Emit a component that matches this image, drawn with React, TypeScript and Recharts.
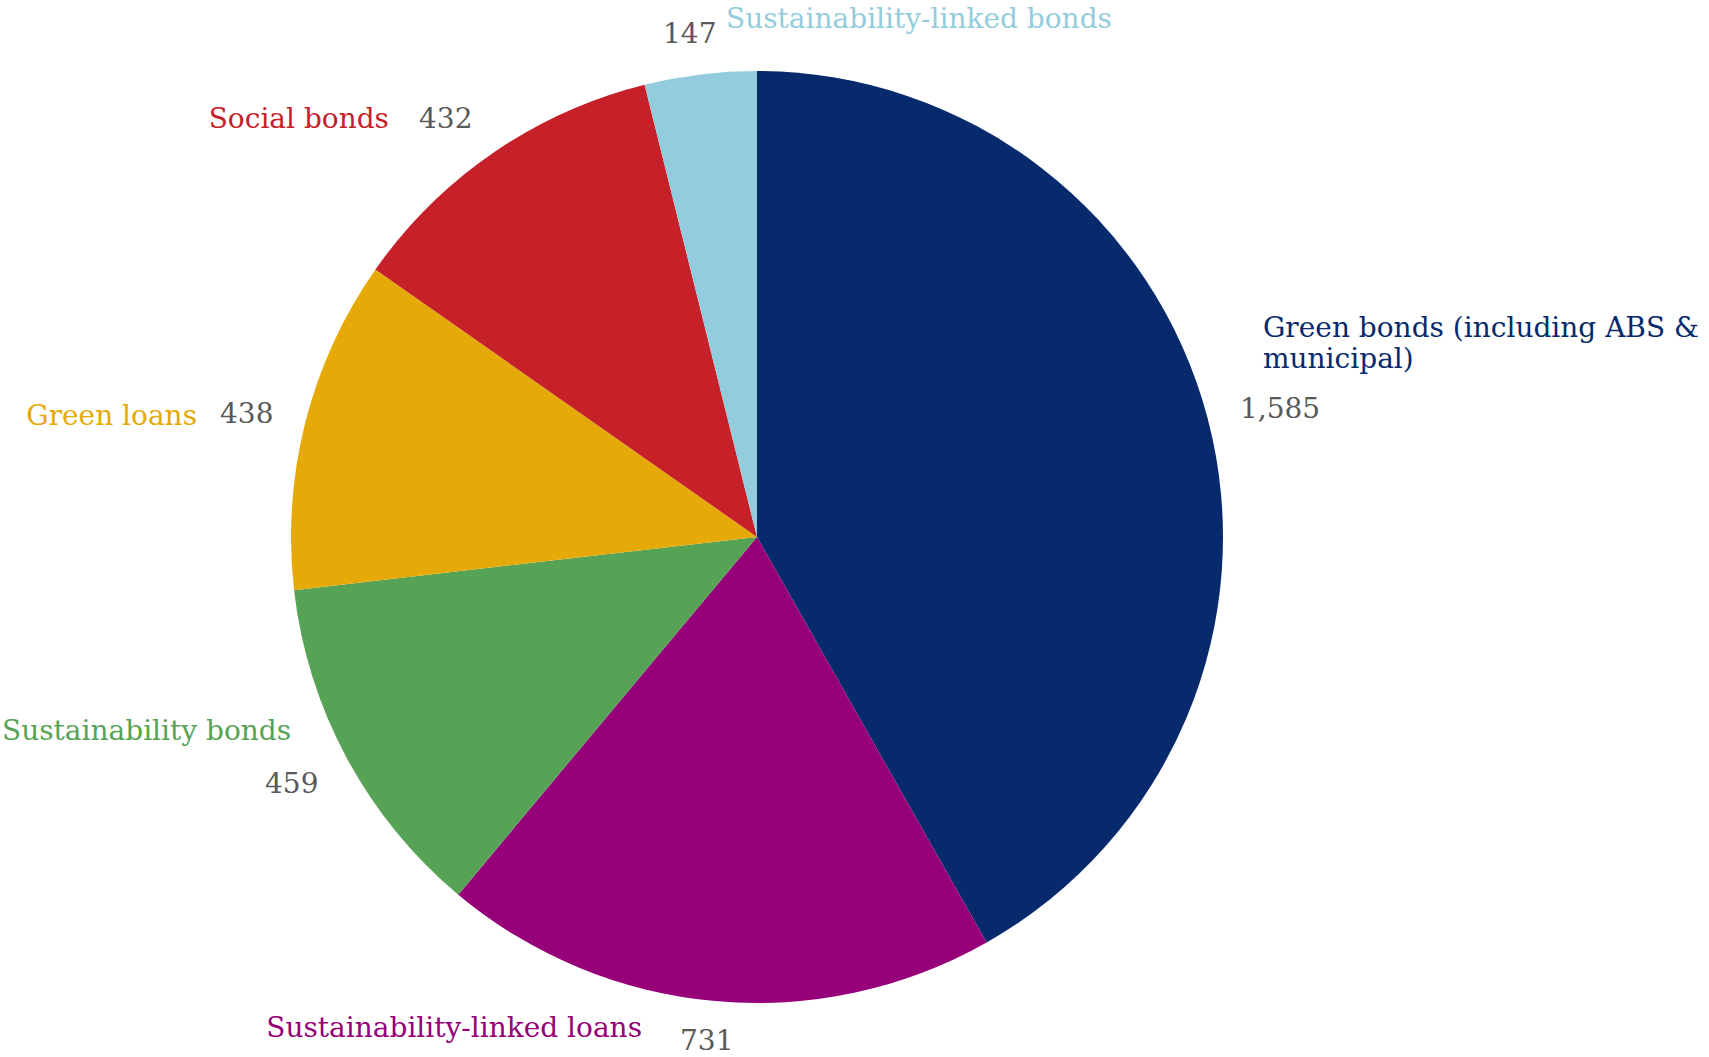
import { PieChart, Pie, Cell } from "recharts"

// Issuance by instrument type
const categories = [
  "Green bonds (including ABS &\nmunicipal)",
  "Sustainability-linked loans",
  "Sustainability bonds",
  "Green loans",
  "Social bonds",
  "Sustainability-linked bonds",
]
const values = [1585, 731, 459, 438, 432, 147]
const colors = ["#062a6b", "#960078", "#56a356", "#e5aa07", "#c62128", "#93cddd"]

// label placement, offsets from the pie centre (Excel-style hand placed labels)
const labelLayout = [
  { nx: 506, ny: -200, nAnchor: "start", vx: 483, vy: -119 },
  { nx: -115, ny: 500, nAnchor: "end", vx: -77, vy: 513 },
  { nx: -755, ny: 203, nAnchor: "start", vx: -492, vy: 256 },
  { nx: -560, ny: -112, nAnchor: "end", vx: -537, vy: -114 },
  { nx: -368, ny: -409, nAnchor: "end", vx: -338, vy: -409 },
  { nx: -31, ny: -509, nAnchor: "start", vx: -94, vy: -494 },
]

const data = categories.map((name, i) => ({ name, value: values[i] }))

const FONT = "'DejaVu Serif', Georgia, serif"
const FONT_SIZE = 28

const renderLabel = (props: any) => {
  const { cx, cy, index } = props
  const l = labelLayout[index]
  const lines = categories[index].split("\n")
  return (
    <g key={`lbl-${index}`}>
      <text x={cx + l.nx} y={cy + l.ny} textAnchor={l.nAnchor} fill={colors[index]} fontFamily={FONT} fontSize={FONT_SIZE}>
        {lines.map((t, j) => (
          <tspan key={j} x={cx + l.nx} dy={j === 0 ? 0 : 31}>
            {t}
          </tspan>
        ))}
      </text>
      <text x={cx + l.vx} y={cy + l.vy} textAnchor="start" fill="#595959" fontFamily={FONT} fontSize={FONT_SIZE}>
        {values[index].toLocaleString("en-US")}
      </text>
    </g>
  )
}

export default function App() {
  return (
    <div style={{ position: "absolute", left: 0, top: 0, width: 1709, height: 1057, background: "#fff" }}>
      <PieChart width={1709} height={1057} margin={{ top: 0, right: 0, bottom: 0, left: 0 }}>
        <Pie
          data={data}
          dataKey="value"
          nameKey="name"
          cx={757}
          cy={537}
          outerRadius={466}
          startAngle={90}
          endAngle={-270}
          stroke="none"
          label={renderLabel}
          labelLine={false}
          isAnimationActive={false}
        >
          {data.map((d, i) => (
            <Cell key={d.name} fill={colors[i]} />
          ))}
        </Pie>
      </PieChart>
    </div>
  )
}
